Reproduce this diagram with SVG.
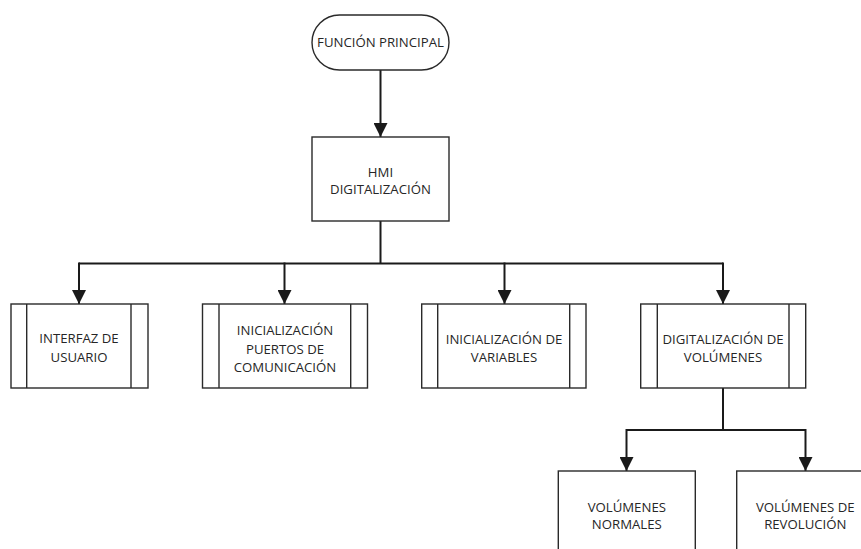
<svg xmlns="http://www.w3.org/2000/svg" width="861" height="549" viewBox="0 0 861 549">
<defs>
<marker id="arr" markerUnits="userSpaceOnUse" markerWidth="14" markerHeight="14" viewBox="0 0 12 12" refX="12" refY="6" orient="auto">
<path d="M0,0 L12,6 L0,12 Z" fill="#1a1a1a"/>
</marker>
</defs>
<style>
.box{fill:#fff;stroke:#2a2a2a;stroke-width:1.4}
.in{stroke:#2a2a2a;stroke-width:1.4;fill:none}
.t{font-family:"Open Sans","Liberation Sans",sans-serif;font-size:13.2px;fill:#262626;text-anchor:middle}
.c{fill:none;stroke:#1a1a1a;stroke-width:2}
</style>
<rect width="861" height="549" fill="#fff"/>
<g id="connectors">
<line class="c" x1="380.5" y1="70" x2="380.5" y2="137" marker-end="url(#arr)"/>
<line class="c" x1="380.5" y1="221" x2="380.5" y2="263.5"/>
<line class="c" x1="79" y1="263.5" x2="723" y2="263.5"/>
<line class="c" x1="79" y1="262.5" x2="79" y2="304" marker-end="url(#arr)"/>
<line class="c" x1="284.5" y1="262.5" x2="284.5" y2="304" marker-end="url(#arr)"/>
<line class="c" x1="504.5" y1="262.5" x2="504.5" y2="304" marker-end="url(#arr)"/>
<line class="c" x1="723" y1="262.5" x2="723" y2="304" marker-end="url(#arr)"/>
<line class="c" x1="723" y1="388" x2="723" y2="430"/>
<line class="c" x1="626.5" y1="430" x2="805.5" y2="430"/>
<line class="c" x1="626.5" y1="429" x2="626.5" y2="471" marker-end="url(#arr)"/>
<line class="c" x1="805.5" y1="429" x2="805.5" y2="471" marker-end="url(#arr)"/>
</g>
<g id="funcion-principal">
<rect class="box" x="312" y="15" width="137" height="55" rx="27.5"/>
<text class="t" x="380.5" y="47.3">FUNCIÓN PRINCIPAL</text>
</g>
<g id="hmi">
<rect class="box" x="312" y="137" width="137" height="84"/>
<text class="t" x="380.5" y="176.5">HMI</text>
<text class="t" x="380.5" y="194">DIGITALIZACIÓN</text>
</g>
<g id="interfaz">
<rect class="box" x="11" y="304" width="137" height="84"/>
<line class="in" x1="26.7" y1="304" x2="26.7" y2="388"/>
<line class="in" x1="131" y1="304" x2="131" y2="388"/>
<text class="t" x="79" y="343.3">INTERFAZ DE</text>
<text class="t" x="79" y="362.3">USUARIO</text>
</g>
<g id="puertos">
<rect class="box" x="202.5" y="304" width="165" height="84"/>
<line class="in" x1="219" y1="304" x2="219" y2="388"/>
<line class="in" x1="350.7" y1="304" x2="350.7" y2="388"/>
<text class="t" x="285" y="335">INICIALIZACIÓN</text>
<text class="t" x="285" y="353.5">PUERTOS DE</text>
<text class="t" x="285" y="372.3">COMUNICACIÓN</text>
</g>
<g id="variables">
<rect class="box" x="421.7" y="304" width="164.3" height="84"/>
<line class="in" x1="437.7" y1="304" x2="437.7" y2="388"/>
<line class="in" x1="569.7" y1="304" x2="569.7" y2="388"/>
<text class="t" x="504" y="344">INICIALIZACIÓN DE</text>
<text class="t" x="504" y="362.3">VARIABLES</text>
</g>
<g id="digitalizacion-volumenes">
<rect class="box" x="640.7" y="304" width="165" height="84"/>
<line class="in" x1="657.3" y1="304" x2="657.3" y2="388"/>
<line class="in" x1="789" y1="304" x2="789" y2="388"/>
<text class="t" x="723" y="344">DIGITALIZACIÓN DE</text>
<text class="t" x="723" y="362.3">VOLÚMENES</text>
</g>
<g id="volumenes-normales">
<rect class="box" x="558.3" y="471" width="137" height="90"/>
<text class="t" x="626.8" y="511.7">VOLÚMENES</text>
<text class="t" x="626.8" y="529.3">NORMALES</text>
</g>
<g id="volumenes-revolucion">
<rect class="box" x="736.7" y="471" width="137" height="90"/>
<text class="t" x="805.3" y="511.7">VOLÚMENES DE</text>
<text class="t" x="805.3" y="529.3">REVOLUCIÓN</text>
</g>
</svg>
